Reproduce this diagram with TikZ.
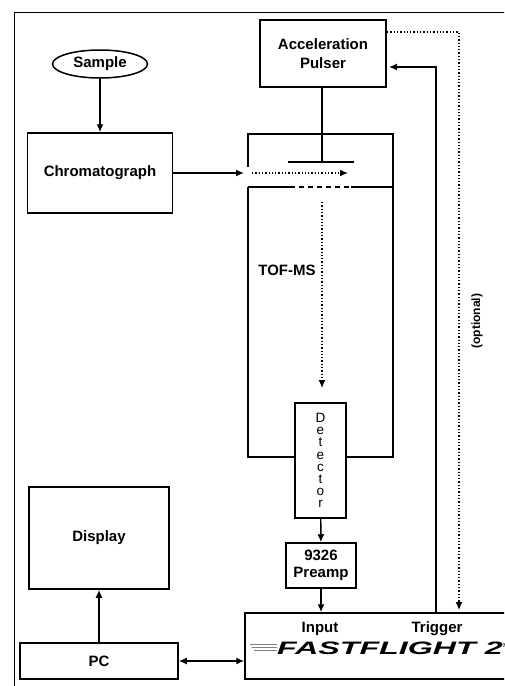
\documentclass[tikz,border=0pt]{standalone}
\usepackage{fontspec}
\setmainfont{Liberation Sans}
\usetikzlibrary{arrows.meta,shapes.geometric}

\begin{document}
\begin{tikzpicture}[x=1pt, y=-1pt,
    box/.style={draw, line width=1.5pt, inner sep=0pt, align=center,
      font=\fontsize{15}{19}\selectfont\bfseries},
    lbl/.style={font=\fontsize{15}{19}\selectfont\bfseries},
    wall/.style={line width=1.5pt},
    conn/.style={line width=1.4pt},
    arr/.style={conn, -{Latex[length=8pt,width=7pt]}},
    dots/.style={line width=1.3pt, dotted}]
  \useasboundingbox (0,0) rectangle (504,686);
  \clip (0,0) rectangle (504,686);
  \draw[line width=0.9pt] (14,12) rectangle (540,720);

  % source side
  \node[box, ellipse, minimum width=95pt, minimum height=28pt] (sample) at (100,64) {Sample};
  \node[box, minimum width=145pt, minimum height=80pt] (chrom) at (100,173) {Chromatograph};
  \node[box, minimum width=126pt, minimum height=67pt] (pulser) at (323,53.5) {Acceleration\\Pulser};

  % flight tube
  \coordinate (tofNW) at (248,134);
  \coordinate (tofSE) at (393,457);
  \coordinate (gapT) at (248,167);
  \coordinate (gapB) at (248,187);
  \draw[wall] (gapT) -- (tofNW) -| (tofSE) -| (gapB);
  \coordinate (plateL) at (288,162);
  \coordinate (plateR) at (354,162);
  \draw[wall] (plateL) -- (plateR);
  \coordinate (gridL) at (290,187);
  \coordinate (gridR) at (351,187);
  \draw[wall] (gapB) -- (gridL);
  \draw[wall, dash pattern=on 5pt off 4pt] (gridL) -- (gridR);
  \draw[wall] (gridR) -- (tofSE |- gridR);
  \node[lbl] (tofms) at (287,270) {TOF-MS};
  \node[box, fill=white, minimum width=51pt, minimum height=115pt,
    font=\fontsize{13.5}{12.2}\selectfont] (det) at (320.5,460.5) {D\\e\\t\\e\\c\\t\\o\\r};

  % electronics
  \node[box, minimum width=70pt, minimum height=45pt, font=\fontsize{15}{17}\selectfont\bfseries] (preamp) at (321,565.5) {9326\\Preamp};
  \node[box, minimum width=300pt, minimum height=66pt] (ff) at (395,646) {};
  \node[lbl] (input) at (320,629) {Input};
  \node[lbl] (trigger) at (437,629) {Trigger};
  \foreach \y/\l in {644/250, 647/252, 650/254}
    \draw[gray, line width=0.6pt] (\l,\y) -- (277,\y);
  \node[anchor=west, inner sep=0pt, font=\fontsize{18}{18}\selectfont\bfseries\itshape] (logo) at (277,648)
    {\scalebox{1.79}[1]{FASTFLIGHT 2}\textsuperscript{\tiny TM}};
  \node[box, minimum width=140pt, minimum height=102pt] (display) at (99,538) {Display};
  \node[box, minimum width=158pt, minimum height=36pt] (pc) at (99,661) {PC};

  % connections
  \coordinate (inlet) at (244,173);
  \coordinate (beamA) at (252,173);
  \coordinate (beamB) at (348,173);
  \coordinate (driftA) at (322,202);
  \coordinate (driftB) at (322,388);
  \coordinate (trig) at (436,613);
  \coordinate (pulserIn) at (386,67);
  \coordinate (pulserOut) at (387,32);
  \coordinate (optEnd) at (459,610);
  \draw[arr] (sample) -- (chrom);
  \draw[arr] (chrom) -- (inlet);
  \draw[arr, dots] (beamA) -- (beamB);
  \draw[arr, dots] (driftA) -- (driftB);
  \draw[conn] (pulser.south -| 322,0) -- (322,162);
  \draw[arr] (det) -- (preamp);
  \draw[arr] (preamp) -- (preamp |- ff.north);
  \draw[arr] (pc) -- (display);
  \draw[conn, {Latex[length=8pt,width=7pt]}-{Latex[length=8pt,width=7pt]}] (pc) -- (pc -| ff.west);
  \draw[arr, shorten >=3pt] (trig) |- (pulserIn);
  \draw[arr, dots] (pulserOut) -| (optEnd);
  \node[rotate=90, font=\fontsize{12}{14}\selectfont\bfseries] (opt) at (477,321) {(optional)};
\end{tikzpicture}
\end{document}
